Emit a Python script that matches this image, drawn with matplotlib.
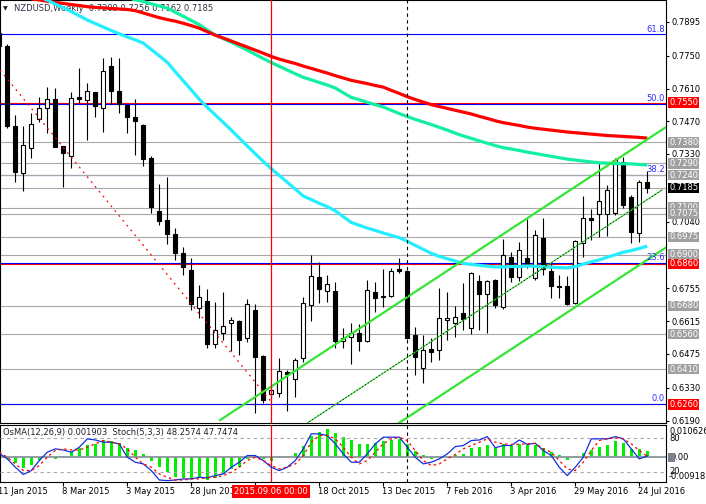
import matplotlib
matplotlib.use('Agg')
import matplotlib.pyplot as plt
import matplotlib.transforms as mtrans
from matplotlib.patches import Rectangle
import numpy as np

plt.rcParams['font.family'] = ['DejaVu Sans']

# ---------------- data ----------------
opens = [0.7847, 0.7792, 0.7450, 0.7249, 0.7356, 0.7480, 0.7527, 0.7565, 0.7364, 0.7321,
         0.7574, 0.7561, 0.7595, 0.7527, 0.7706, 0.7599, 0.7540, 0.7488, 0.7454, 0.7313,
         0.7086, 0.7048, 0.6988, 0.6906, 0.6834, 0.6671, 0.6701, 0.6517, 0.6564, 0.6607,
         0.6616, 0.6543, 0.6663, 0.6466, 0.6304, 0.6308, 0.6398, 0.6368, 0.6457, 0.6684,
         0.6804, 0.6744, 0.6744, 0.6530, 0.6547, 0.6564, 0.6530, 0.6740, 0.6718, 0.6723,
         0.6838, 0.6830, 0.6556, 0.6415, 0.6496, 0.6492, 0.6620, 0.6607, 0.6650, 0.6586,
         0.6787, 0.6731, 0.6791, 0.6676, 0.6889, 0.6804, 0.6885, 0.6800, 0.6971, 0.6830,
         0.6765, 0.6765, 0.6693, 0.6949, 0.7056, 0.7073, 0.7073, 0.7078, 0.7296, 0.7146,
         0.6992, 0.7209]
highs = [0.7870, 0.7800, 0.7497, 0.7450, 0.7505, 0.7574, 0.7616, 0.7612, 0.7366, 0.7595,
         0.7698, 0.7634, 0.7597, 0.7741, 0.7745, 0.7741, 0.7542, 0.7565, 0.7458, 0.7321,
         0.7202, 0.7232, 0.7013, 0.6932, 0.6885, 0.6770, 0.6753, 0.6697, 0.6740, 0.6633,
         0.6620, 0.6710, 0.6688, 0.6470, 0.6338, 0.6457, 0.6405, 0.6457, 0.6718, 0.6898,
         0.6868, 0.6812, 0.6783, 0.6586, 0.6607, 0.6603, 0.6791, 0.6783, 0.6838, 0.6842,
         0.6885, 0.6834, 0.6590, 0.6556, 0.6543, 0.6757, 0.6740, 0.6680, 0.6778, 0.6825,
         0.6812, 0.6791, 0.6795, 0.6966, 0.6911, 0.6954, 0.7052, 0.7005, 0.7056, 0.6864,
         0.6812, 0.6808, 0.6962, 0.7150, 0.7095, 0.7291, 0.7197, 0.7313, 0.7317, 0.7155,
         0.7219, 0.7256]
lows = [0.7780, 0.7440, 0.7210, 0.7172, 0.7313, 0.7467, 0.7420, 0.7358, 0.7189, 0.7270,
        0.7548, 0.7390, 0.7488, 0.7424, 0.7544, 0.7505, 0.7420, 0.7326, 0.7279, 0.7078,
        0.7026, 0.6945, 0.6877, 0.6812, 0.6663, 0.6628, 0.6500, 0.6500, 0.6534, 0.6487,
        0.6470, 0.6526, 0.6222, 0.6265, 0.6286, 0.6291, 0.6231, 0.6291, 0.6440, 0.6616,
        0.6693, 0.6697, 0.6500, 0.6500, 0.6432, 0.6487, 0.6526, 0.6654, 0.6676, 0.6718,
        0.6821, 0.6539, 0.6385, 0.6351, 0.6440, 0.6449, 0.6534, 0.6547, 0.6577, 0.6560,
        0.6577, 0.6564, 0.6671, 0.6667, 0.6783, 0.6787, 0.6842, 0.6791, 0.6812, 0.6714,
        0.6714, 0.6684, 0.6688, 0.6889, 0.6962, 0.6975, 0.6979, 0.7069, 0.7099, 0.6949,
        0.6954, 0.7162]
closes = [0.7792, 0.7450, 0.7253, 0.7369, 0.7458, 0.7527, 0.7565, 0.7360, 0.7334, 0.7569,
          0.7565, 0.7599, 0.7535, 0.7685, 0.7599, 0.7544, 0.7488, 0.7471, 0.7309, 0.7103,
          0.7043, 0.6988, 0.6906, 0.6847, 0.6688, 0.6718, 0.6517, 0.6577, 0.6594, 0.6620,
          0.6534, 0.6688, 0.6462, 0.6278, 0.6321, 0.6402, 0.6389, 0.6449, 0.6693, 0.6808,
          0.6753, 0.6774, 0.6530, 0.6543, 0.6564, 0.6530, 0.6749, 0.6714, 0.6723, 0.6830,
          0.6830, 0.6543, 0.6462, 0.6492, 0.6483, 0.6628, 0.6628, 0.6633, 0.6624, 0.6821,
          0.6731, 0.6787, 0.6684, 0.6898, 0.6804, 0.6919, 0.6859, 0.6983, 0.6838, 0.6765,
          0.6761, 0.6688, 0.6958, 0.7056, 0.7048, 0.7129, 0.7176, 0.7304, 0.7112, 0.6996,
          0.7210, 0.7185]

ma_red = [0.8010, 0.8006, 0.8001, 0.7997, 0.7993, 0.7989, 0.7983, 0.7978, 0.7974, 0.7969,
          0.7965, 0.7960, 0.7957, 0.7955, 0.7952, 0.7950, 0.7948, 0.7943, 0.7933, 0.7923,
          0.7913, 0.7905, 0.7898, 0.7889, 0.7879, 0.7868, 0.7853, 0.7838, 0.7826, 0.7813,
          0.7800, 0.7787, 0.7774, 0.7761, 0.7747, 0.7736, 0.7726, 0.7717, 0.7706, 0.7696,
          0.7686, 0.7676, 0.7665, 0.7655, 0.7645, 0.7638, 0.7631, 0.7623, 0.7616, 0.7602,
          0.7589, 0.7575, 0.7563, 0.7552, 0.7541, 0.7533, 0.7525, 0.7517, 0.7509, 0.7501,
          0.7491, 0.7482, 0.7472, 0.7464, 0.7458, 0.7452, 0.7445, 0.7440, 0.7436, 0.7432,
          0.7428, 0.7424, 0.7421, 0.7418, 0.7415, 0.7412, 0.7409, 0.7407, 0.7405, 0.7403,
          0.7401, 0.7398]
ma_green = [0.8083, 0.8078, 0.8074, 0.8070, 0.8066, 0.8061, 0.8057, 0.8053, 0.8048, 0.8044,
            0.8039, 0.8033, 0.8026, 0.8019, 0.8013, 0.8005, 0.7997, 0.7990, 0.7982, 0.7972,
            0.7963, 0.7954, 0.7936, 0.7919, 0.7901, 0.7883, 0.7860, 0.7839, 0.7823, 0.7808,
            0.7791, 0.7774, 0.7756, 0.7738, 0.7721, 0.7705, 0.7689, 0.7673, 0.7658, 0.7647,
            0.7636, 0.7625, 0.7612, 0.7592, 0.7572, 0.7562, 0.7551, 0.7541, 0.7531, 0.7517,
            0.7503, 0.7490, 0.7478, 0.7467, 0.7456, 0.7444, 0.7432, 0.7419, 0.7407, 0.7397,
            0.7386, 0.7376, 0.7366, 0.7357, 0.7351, 0.7345, 0.7338, 0.7332, 0.7326, 0.7320,
            0.7314, 0.7308, 0.7304, 0.7300, 0.7296, 0.7292, 0.7291, 0.7289, 0.7288, 0.7288,
            0.7285, 0.7283]
ma_cyan = [0.8087, 0.8070, 0.8053, 0.8036, 0.8019, 0.8001, 0.7988, 0.7971, 0.7956, 0.7939,
           0.7921, 0.7903, 0.7888, 0.7873, 0.7858, 0.7844, 0.7831, 0.7818, 0.7804, 0.7777,
           0.7750, 0.7722, 0.7682, 0.7643, 0.7604, 0.7564, 0.7530, 0.7497, 0.7465, 0.7432,
           0.7398, 0.7364, 0.7331, 0.7298, 0.7267, 0.7238, 0.7209, 0.7180, 0.7150, 0.7135,
           0.7119, 0.7105, 0.7087, 0.7062, 0.7037, 0.7025, 0.7013, 0.7003, 0.6992, 0.6982,
           0.6972, 0.6957, 0.6939, 0.6922, 0.6905, 0.6892, 0.6882, 0.6872, 0.6862, 0.6858,
           0.6854, 0.6850, 0.6847, 0.6847, 0.6849, 0.6849, 0.6851, 0.6850, 0.6848, 0.6846,
           0.6844, 0.6843, 0.6849, 0.6859, 0.6869, 0.6877, 0.6889, 0.6899, 0.6910, 0.6917,
           0.6926, 0.6936]

osma = [0.00015, -0.0006, -0.0018, -0.0032, -0.0022, -0.0008, -0.0003, -0.0004, 0.00045, 0.0015,
        0.0028, 0.0036, 0.0040, 0.0052, 0.0048, 0.0042, 0.0028, 0.0022, 0.0010, -0.0012,
        -0.0030, -0.0045, -0.0060, -0.0062, -0.0065, -0.0062, -0.0068, -0.0062, -0.0050, -0.0035,
        -0.0028, -0.0006, -0.0003, -0.0005, -0.0010, 0.0003, 0.0005, 0.0012, 0.0035, 0.0065,
        0.0075, 0.0085, 0.0072, 0.0060, 0.0052, 0.0040, 0.0041, 0.0042, 0.0049, 0.0052,
        0.0056, 0.0040, 0.0018, 0.0007, -0.0004, 0.0001, 0.00015, 0.00075, 0.00095, 0.00285,
        0.0031, 0.0037, 0.0029, 0.00385, 0.0035, 0.0040, 0.0036, 0.00375, 0.00275, 0.0016,
        0.0007, -0.00075, 0.00045, 0.0012, 0.0022, 0.0031, 0.0037, 0.00495, 0.00425, 0.0025,
        0.00245, 0.001903]
stoch_main = [53, 43, 28, 15, 22, 40, 55, 61, 59, 55,
              64, 79, 77, 73, 73, 70, 46, 37, 34, 22,
              5, 4, 5, 7, 7, 10, 9, 13, 16, 28,
              37, 49, 49, 40, 28, 22, 28, 40, 61, 88,
              88, 85, 70, 52, 37, 37, 52, 70, 82, 82,
              82, 64, 46, 34, 37, 43, 52, 65, 67, 76,
              77, 83, 63, 67, 67, 77, 69, 71, 58, 49,
              28, 13, 28, 46, 79, 79, 79, 83, 79, 61,
              43, 48.2574]
stoch_signal = [55, 46, 34, 22, 22, 31, 46, 58, 61, 59,
                59, 64, 70, 76, 73, 70, 61, 46, 34, 28,
                16, 10, 5, 5, 7, 7, 9, 10, 13, 19,
                28, 40, 46, 40, 31, 25, 28, 34, 49, 73,
                85, 85, 79, 64, 46, 34, 40, 55, 70, 79,
                82, 76, 58, 40, 31, 34, 43, 51, 61, 67,
                73, 79, 73, 70, 69, 69, 70, 71, 61, 55,
                40, 25, 22, 37, 58, 76, 79, 81, 79, 70,
                58, 47.7474]

date_tick_bars = [0, 8, 16, 24, 32, 40, 48, 56, 64, 72, 80]
date_tick_labels = ['11 Jan 2015', '8 Mar 2015', '3 May 2015', '28 Jun 2015', '',
                    '18 Oct 2015', '13 Dec 2015', '7 Feb 2016', '3 Apr 2016', '29 May 2016',
                    '24 Jul 2016']

price_ticks = [0.7895, 0.7750, 0.7610, 0.7470, 0.7330, 0.7040, 0.6755, 0.6615, 0.6475, 0.6330, 0.6190]
gray_levels = [0.7380, 0.7290, 0.7240, 0.7185, 0.7100, 0.7075, 0.6975, 0.6900, 0.6680, 0.6560, 0.6410]
red_levels = [0.7550, 0.6860, 0.6260]
fib_names = ['0.0', '23.6', '38.2', '50.0', '61.8']
fib_prices = [0.6261, 0.6864, 0.7240, 0.7544, 0.7842]
box_prices = [0.7550, 0.7380, 0.7290, 0.7240, 0.7185, 0.7100, 0.7075, 0.6975, 0.6900, 0.6860,
              0.6680, 0.6560, 0.6410, 0.6260]
box_colors = ['#FF0000', '#A0A0A0', '#A0A0A0', '#A0A0A0', '#000000', '#A0A0A0', '#A0A0A0', '#A0A0A0',
              '#A0A0A0', '#FF0000', '#A0A0A0', '#A0A0A0', '#A0A0A0', '#FF0000']

channel_start = (27.6, 0.6192)
channel_end = (83.34, 0.7445)
channel_mid_end_bar = 82.9
channel_width = 0.0515
down_line = [(0.09, 0.7689), (34.0, 0.6270)]
vline_red_bar = 34
vline_year_bar = 51

title = 'NZDUSD,Weekly  0.7209 0.7256 0.7162 0.7185'
sub_title = 'OsMA(12,26,9) 0.001903  Stoch(5,3,3) 48.2574 47.7474'

# ---------------- layout ----------------
W, H = 706, 504
fig = plt.figure(figsize=(W / 100, H / 100), dpi=100)
fig.patch.set_facecolor('white')
main_r = 666
main_b = 423.3
sub_t, sub_b = 425.0, 481.7
ax = fig.add_axes([0, 1 - main_b / H, main_r / W, main_b / H])
sub = fig.add_axes([0, 1 - sub_b / H, main_r / W, (sub_b - sub_t) / H])
XLIM = (0.0875, 83.34)
FS = 6.0

for a in (ax, sub):
    a.set_xlim(*XLIM)
    a.set_facecolor('white')
    for s in a.spines.values():
        s.set_color('black')
        s.set_linewidth(0.8)
ax.set_ylim(0.61782, 0.79886)

def off(trans, dx, dy):
    return mtrans.offset_copy(trans, fig=fig, x=dx, y=dy, units='dots')

x = np.arange(len(opens))
o = np.array(opens); h = np.array(highs); l = np.array(lows); c = np.array(closes)

# horizontal levels
for p in red_levels:
    ax.axhline(p, color='#FF0000', lw=0.8, zorder=1.5)
for p in fib_prices:
    ax.axhline(p, color='#0000FF', lw=0.8, zorder=1.6)
for p in gray_levels:
    ax.axhline(p, color='#A8A8A8', lw=0.8, zorder=1.7)

# title (under the lines)
ax.text(2.5 / main_r, 1 - 8.5 / main_b, '\u25BC', transform=ax.transAxes, fontsize=4.5,
        ha='left', va='center', color='#202020', zorder=1)
ax.text(14 / main_r, 1 - 8.5 / main_b, title, transform=ax.transAxes, fontsize=FS,
        ha='left', va='center', color='#303040', zorder=1)

# candles
ax.vlines(x, l, h, color='black', lw=0.8, zorder=3)
up = c >= o
ax.bar(x[up], (c - o)[up], bottom=o[up], width=0.55, facecolor='white', edgecolor='black',
       linewidth=0.8, zorder=3.1)
ax.bar(x[~up], (o - c)[~up], bottom=c[~up], width=0.55, facecolor='black', edgecolor='black',
       linewidth=0.8, zorder=3.1)

# moving averages
ax.plot(x, ma_green, color='#10F0A0', lw=2.3, zorder=4, solid_capstyle='butt')
ax.plot(x, ma_red, color='#FF0000', lw=2.3, zorder=4.1, solid_capstyle='butt')
ax.plot(x, ma_cyan, color='#22EEFF', lw=2.3, zorder=4.2, solid_capstyle='butt')

# channel
slope = (channel_end[1] - channel_start[1]) / (channel_end[0] - channel_start[0])
cx = np.array([channel_start[0], channel_end[0]])
cy = np.array([channel_start[1], channel_end[1]])
ax.plot(cx, cy, color='#33E633', lw=1.6, zorder=5)
ax.plot(cx, cy - channel_width, color='#33E633', lw=1.6, zorder=5)
mx = np.array([channel_start[0], channel_mid_end_bar])
my = channel_start[1] - channel_width / 2 + slope * (mx - channel_start[0])
ax.plot(mx, my, color='#33E633', lw=0.8, zorder=5)
ax.plot(mx, my, color='black', lw=0.6, ls=(0, (1.5, 2.5)), zorder=5.1)

# down trend dotted line
ax.plot([down_line[0][0], down_line[1][0]], [down_line[0][1], down_line[1][1]], color='#FF0000',
        lw=0.9, ls=(0, (1.5, 3.5)), zorder=5)

# vertical lines
for a in (ax, sub):
    a.axvline(vline_red_bar, color='#FF0000', lw=0.9, zorder=6)
    a.axvline(vline_year_bar, color='black', lw=0.8, ls=(0, (3, 3)), zorder=6)

# fib labels
for name, p in zip(fib_names, fib_prices):
    ax.text(83.2, p + 0.0003, name, ha='right', va='bottom', fontsize=FS, color='#3030FF', zorder=6)

# right price axis
ax.yaxis.tick_right()
ax.set_yticks(price_ticks)
ax.set_yticklabels([f'{p:.4f}' for p in price_ticks])
ax.tick_params(axis='y', direction='out', length=2.5, width=0.8, labelsize=FS, pad=1.8, colors='black')
ax.set_xticks([])
ytr = ax.get_yaxis_transform()
for p, col in zip(box_prices, box_colors):
    ax.text(1.0, p, f'{p:.4f}', transform=off(ytr, 3.2, 0), ha='left', va='center', fontsize=FS,
            color='white', clip_on=False, zorder=10,
            bbox=dict(boxstyle='square,pad=0.1', fc=col, ec='none'))

# ---------------- sub window ----------------
OS_LIM = (-0.00732, 0.00969)
sub.set_ylim(*OS_LIM)
sub.bar(x, osma, width=0.42, color='#00EE00', zorder=2)
sub.axhline(0, color='#8A949E', lw=1.3, zorder=2.5)
sub.set_yticks([])
sub.set_xticks([b for b in date_tick_bars if b >= XLIM[0]])
sub.set_xticklabels([])
sub.tick_params(axis='x', direction='out', length=3, width=0.8, colors='black')

st = sub.twinx()
st.set_ylim(2.0, 103.9)
st.set_xlim(*XLIM)
st.set_axis_off()
st.axhline(80, color='#A8A8A8', lw=0.8, ls=(0, (3, 3)), zorder=1)
st.axhline(20, color='#A8A8A8', lw=0.8, ls=(0, (3, 3)), zorder=1)
st.plot(x, stoch_main, color='#1030E0', lw=0.9, zorder=3)
st.plot(x, stoch_signal, color='#FF0000', lw=0.9, ls=(0, (2, 2.5)), zorder=3)

sub.text(3 / main_r, 0.86, sub_title, transform=sub.transAxes, fontsize=FS, ha='left', va='center',
         color='#202030', zorder=7)

# sub right labels
str_ = st.get_yaxis_transform()
st.text(1.0, 80, '80', transform=off(str_, 3, 0), ha='left', va='center', fontsize=FS, clip_on=False)
st.text(1.0, 20, '20', transform=off(str_, 3, 0), ha='left', va='center', fontsize=FS, clip_on=False)
sub.text(1.0, 1.0, '0.010626', transform=off(sub.transAxes, 4, -1.5), ha='left', va='top',
         fontsize=FS, clip_on=False, zorder=8)
sub.text(1.0, 0.0, '-0.00918', transform=off(sub.transAxes, 3, 1), ha='left', va='bottom',
         fontsize=FS, clip_on=False, zorder=8)
fig.add_artist(Rectangle((668 / W, 1 - 461.5 / H), 6.5 / W, 9 / H, transform=fig.transFigure,
                         facecolor='#7A8290', edgecolor='none'))
sub.text(1.0, 0.0, '0.00', transform=off(sub.get_yaxis_transform(), 4.5, 0), ha='left', va='center',
         fontsize=FS, clip_on=False, zorder=8)

# date labels
xtr = sub.get_xaxis_transform()
for b, lab in zip(date_tick_bars, date_tick_labels):
    if lab:
        sub.text(b - 0.15, 0, lab, transform=off(xtr, 0, -10), ha='left', va='center', fontsize=FS,
                 clip_on=False, color='black')
sub.text(vline_red_bar, 0, '2015.09.06 00:00', transform=off(xtr, 0, -10), ha='center', va='center',
         fontsize=FS, color='white', clip_on=False, zorder=10,
         bbox=dict(boxstyle='square,pad=0.25', fc='#FF0000', ec='none'))

fig.savefig('out.png', dpi=100, facecolor='white')
